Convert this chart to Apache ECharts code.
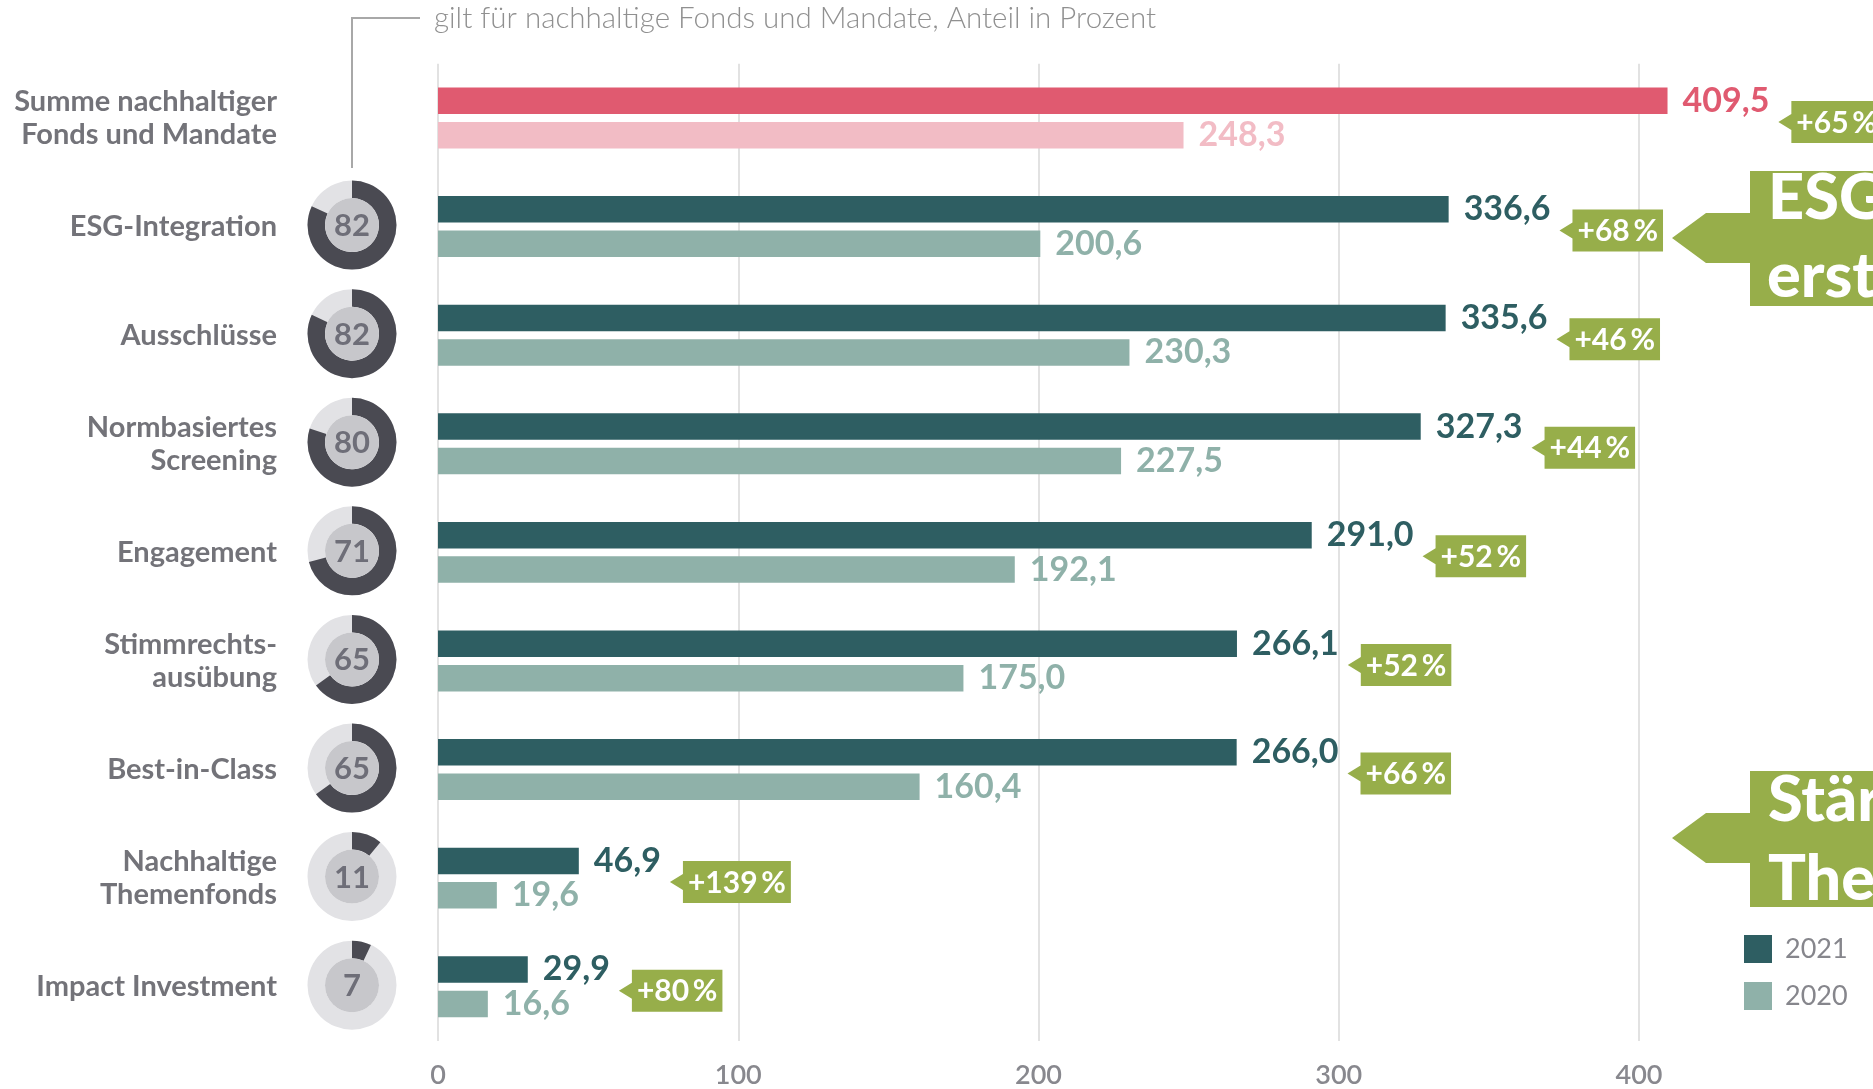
<!DOCTYPE html>
<html><head><meta charset="utf-8">
<script src="https://cdn.jsdelivr.net/npm/echarts@6/dist/echarts.min.js"></script>
<style>html,body{margin:0;padding:0;background:#fff}#c{width:1873px;height:1089px}</style>
</head><body><div id="c"></div>
<script>
const categories = ['Summe nachhaltiger\nFonds und Mandate','ESG-Integration','Ausschlüsse','Normbasiertes\nScreening','Engagement','Stimmrechts-\nausübung','Best-in-Class','Nachhaltige\nThemenfonds','Impact Investment'];
const values2021 = [409.5,336.6,335.6,327.3,291.0,266.1,266.0,46.9,29.9];
const values2020 = [248.3,200.6,230.3,227.5,192.1,175.0,160.4,19.6,16.6];
const growth = [65,68,46,44,52,52,66,139,80];
const shares = [null,82,82,80,71,65,65,11,7];
const xTicks = [0,100,200,300,400];

const FONT = 'Lato';
const RED='#e05a70', PINK='#f2bcc5', TEAL='#2e5e62', LTEAL='#8fb1a9', GREEN='#97ae4a', GREY='#737379';
const fmt = v => v.toFixed(1).replace('.', ',');
const mctx = document.createElement('canvas').getContext('2d');
function tw(t, font){ mctx.font = font; return mctx.measureText(t).width; }
const LBL_SIZE = 34, LBL_DIST = 15, BADGE_SIZE = 30;

const chart = echarts.init(document.getElementById('c'), null, {renderer:'canvas'});
const option = {
  backgroundColor:'#fff',
  animation:false,
  textStyle:{fontFamily:FONT},
  grid:{left:438, top:63.7, width:1201, height:983, containLabel:false},
  legend:{
    orient:'vertical', left:1739, top:930, itemWidth:28, itemHeight:28, itemGap:19,
    icon:'rect', data:['2021','2020'],
    textStyle:{fontFamily:FONT, fontSize:27, color:'#86868c', padding:[0,0,0,8]}
  },
  xAxis:{
    type:'value', min:xTicks[0], max:xTicks[xTicks.length-1], interval:100,
    axisLine:{show:false}, axisTick:{show:false},
    splitLine:{lineStyle:{color:'#d8d8d8', width:1.5}},
    axisLabel:{fontFamily:FONT, fontSize:27, fontWeight:600, color:'#88888e', margin:21}
  },
  yAxis:{
    type:'category', inverse:true, data:categories,
    axisLine:{show:false}, axisTick:{show:false},
    axisLabel:{fontFamily:FONT, fontSize:29, fontWeight:'bold', color:GREY, margin:161, lineHeight:33, align:'right'}
  },
  series:[
    {
      name:'2021', type:'bar', barWidth:26.5, barGap:'30%', clip:false,
      itemStyle:{color:TEAL},
      label:{show:true, position:'right', distance:LBL_DIST, fontFamily:FONT, fontSize:LBL_SIZE, fontWeight:'bold', color:TEAL,
        formatter:p=>fmt(p.value)},
      data: values2021.map((v,i)=> i===0 ? {value:v, itemStyle:{color:RED}, label:{color:RED}} : v)
    },
    {
      name:'2020', type:'bar', barWidth:26.5, barGap:'30%', clip:false,
      itemStyle:{color:LTEAL},
      label:{show:true, position:'right', distance:LBL_DIST, fontFamily:FONT, fontSize:LBL_SIZE, fontWeight:'bold', color:LTEAL,
        formatter:p=>fmt(p.value)},
      data: values2020.map((v,i)=> i===0 ? {value:v, itemStyle:{color:PINK}, label:{color:PINK}} : v)
    },
    {
      name:'badges', type:'custom', clip:false, silent:true,
      encode:{x:0, y:1},
      data: values2021.map((v,i)=>[v, i, growth[i]]),
      renderItem:(params, api)=>{
        const v = api.value(0), idx = api.value(1), g = api.value(2);
        const pt = api.coord([v, idx]);
        const lw = tw(fmt(v), 'bold '+LBL_SIZE+'px '+FONT);
        const tipX = pt[0] + LBL_DIST + lw + 9;
        const cy = pt[1] + 4;
        const txt = '+' + g + '\u2009%';
        const w = tw(txt, 'bold '+BADGE_SIZE+'px '+FONT) + 10;
        const bx = tipX + 13, h = 42;
        return {type:'group', children:[
          {type:'polygon', shape:{points:[[tipX,cy],[bx,cy-8],[bx,cy-h/2],[bx+w,cy-h/2],[bx+w,cy+h/2],[bx,cy+h/2],[bx,cy+8]]}, style:{fill:GREEN}},
          {type:'text', style:{x:bx+w/2, y:cy+1, text:txt, fill:'#fff', font:'bold '+BADGE_SIZE+'px '+FONT, textAlign:'center', textVerticalAlign:'middle'}}
        ]};
      }
    },
    {
      name:'donuts', type:'custom', clip:false, silent:true,
      encode:{x:0, y:1},
      data: shares.map((s,i)=> s==null ? null : [0, i, s]).filter(d=>d),
      renderItem:(params, api)=>{
        const idx = api.value(1), s = api.value(2);
        const pt = api.coord([0, idx]);
        const cx = pt[0] - 86, cy = pt[1] - 1.5;
        const a0 = -Math.PI/2;
        return {type:'group', children:[
          {type:'sector', shape:{cx, cy, r0:27, r:44.5, startAngle:0, endAngle:Math.PI*2}, style:{fill:'#e2e2e5'}},
          {type:'sector', shape:{cx, cy, r0:27, r:44.5, startAngle:a0, endAngle:a0 + Math.PI*2*s/100, clockwise:true}, style:{fill:'#4a4a52'}},
          {type:'circle', shape:{cx, cy, r:27}, style:{fill:'#c7c7cb'}},
          {type:'text', style:{x:cx, y:cy+1, text:String(s), fill:'#6e6e78', font:'bold 31px '+FONT, textAlign:'center', textVerticalAlign:'middle'}}
        ]};
      }
    }
  ],
  graphic:[
    {type:'polyline', shape:{points:[[420,18],[352,18],[352,168]]}, style:{stroke:'#a8a8a8', lineWidth:2, fill:null}},
    {type:'text', style:{x:434, y:18, text:'gilt für nachhaltige Fonds und Mandate, Anteil in Prozent', fill:'#909090', font:'300 29.5px '+FONT, textVerticalAlign:'middle'}},
    {type:'polygon', shape:{points:[[1672,238],[1706,213],[1750,213],[1750,171],[1873,171],[1873,306],[1750,306],[1750,263],[1706,263]]}, style:{fill:GREEN}},
    {type:'text', style:{x:1768, y:199, text:'ESG-Integration', fill:'#fff', font:'900 63px '+FONT, textVerticalAlign:'middle'}},
    {type:'text', style:{x:1767, y:277, text:'erstmals vorn', fill:'#fff', font:'900 63px '+FONT, textVerticalAlign:'middle'}},
    {type:'polygon', shape:{points:[[1672,838],[1706,813],[1750,813],[1750,771],[1873,771],[1873,907],[1750,907],[1750,863],[1706,863]]}, style:{fill:GREEN}},
    {type:'text', style:{x:1768, y:801, text:'Stärkster Zuwachs', fill:'#fff', font:'900 63px '+FONT, textVerticalAlign:'middle'}},
    {type:'text', style:{x:1768, y:880, text:'Themenfonds', fill:'#fff', font:'900 63px '+FONT, textVerticalAlign:'middle'}}
  ]
};
chart.setOption(option);
</script></body></html>
